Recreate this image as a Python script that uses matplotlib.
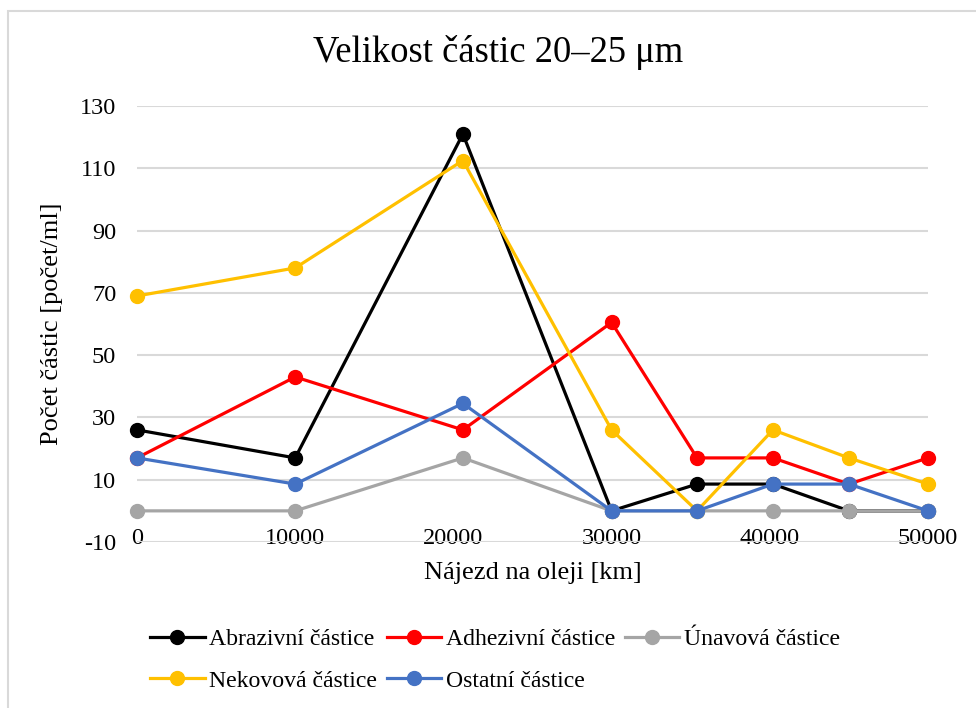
import matplotlib
matplotlib.use('Agg')
import matplotlib.pyplot as plt
from matplotlib.patches import Rectangle

plt.rcParams['font.family'] = ['Liberation Serif', 'DejaVu Serif']
plt.rcParams['axes.unicode_minus'] = False

najezd = [0, 10000, 20600, 30000, 35400, 40200, 45000, 50000]
abrazivni = [26, 17, 121, 0, 8.6, 8.6, 0, 0]
adhezivni = [17, 43, 26, 60.5, 17, 17, 8.6, 17]
unavova = [0, 0, 17, 0, 0, 0, 0, 0]
nekovova = [69, 78, 112.5, 26, 0, 26, 17, 8.6]
ostatni = [17, 8.6, 34.5, 0, 0, 8.6, 8.6, 0]

nazvy = ['Abrazivní částice', 'Adhezivní částice', 'Únavová částice',
         'Nekovová částice', 'Ostatní částice']
barvy = ['#000000', '#FF0000', '#A5A5A5', '#FFC000', '#4472C4']
x_ticks = [0, 10000, 20000, 30000, 40000, 50000]
y_ticks = [-10, 10, 30, 50, 70, 90, 110, 130]

fig = plt.figure(figsize=(9.76, 7.08), dpi=100)
# ramecek grafu (jen levy a horni okraj je videt)
fig.patches.append(Rectangle((8/976, -0.1), 1.2, 1 - 11/708 + 0.1, transform=fig.transFigure,
                             fill=False, edgecolor='#D9D9D9', linewidth=1.5))

ax = fig.add_axes([137/976, 1 - 542/708, (928-137)/976, (542-106)/708])

rady = [abrazivni, adhezivni, unavova, nekovova, ostatni]
car = {}
for data, nazev, barva in zip(rady, nazvy, barvy):
    car[nazev], = ax.plot(najezd, data, color=barva, lw=2.3, marker='o', markersize=10,
                          label=nazev, clip_on=False, zorder=3)

ax.set_xlim(0, 50000)
ax.set_ylim(-10, 130)
ax.set_xticks(x_ticks)
ax.set_yticks(y_ticks)
ax.grid(axis='y', color='#D9D9D9', linewidth=1.5)
ax.set_axisbelow(True)
for s in ax.spines.values():
    s.set_visible(False)
ax.tick_params(axis='x', length=0, pad=-10, labelsize=17.5)
ax.tick_params(axis='y', length=0, pad=15, labelsize=17.5)
ax.set_xlabel('Nájezd na oleji [km]', fontsize=19, labelpad=9)
ax.set_ylabel('Počet částic [počet/ml]', fontsize=19, labelpad=12)

fig.text(498/976, 1 - 52/708, 'Velikost částic 20–25 μm', fontsize=26.4, ha='center', va='center')

poradi = ['Abrazivní částice', 'Nekovová částice', 'Adhezivní částice',
          'Ostatní částice', 'Únavová částice']
fig.legend([car[n] for n in poradi], poradi, loc='center', bbox_to_anchor=(495/976, 1 - 660/708),
           ncol=3, frameon=False, fontsize=17.1, handlelength=2.3, handletextpad=0.2,
           columnspacing=0.4, labelspacing=0.85)

plt.savefig('out.png', dpi=100)
